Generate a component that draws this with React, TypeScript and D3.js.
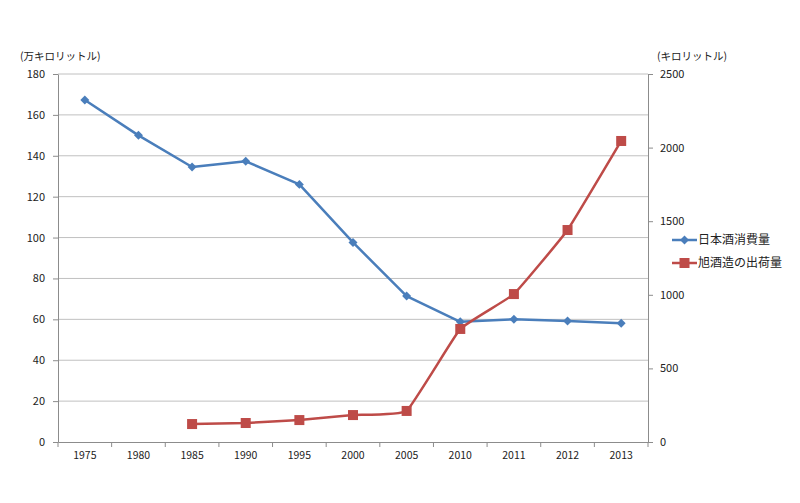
import { useEffect, useRef } from 'react';
import * as d3 from 'd3';

const years = ["1975", "1980", "1985", "1990", "1995", "2000", "2005", "2010", "2011", "2012", "2013"];
// 日本酒消費量 (万キロリットル)
const sakeConsumption = [167.3, 150.0, 134.5, 137.3, 126.0, 97.6, 71.4, 58.8, 60.0, 59.2, 58.1];
// 旭酒造の出荷量 (キロリットル), no data before 1985
const asahiShipment: (number | null)[] = [null, null, 122, 129, 149, 183, 211, 768, 1005, 1440, 2045];
const leftTicks = [0, 20, 40, 60, 80, 100, 120, 140, 160, 180];
const rightTicks = [0, 500, 1000, 1500, 2000, 2500];

const BLUE = "#4a7ebb";
const RED = "#be4b48";
const FONT = "'Noto Sans CJK JP', 'Noto Sans', sans-serif";

export default function App() {
    const svgRef = useRef<SVGSVGElement>(null);

    useEffect(() => {
        const width = 800;
        const height = 503;
        const svg = d3.select(svgRef.current);
        svg.selectAll("*").remove();
        svg.attr("width", width).attr("height", height)
            .style("font-family", FONT);

        svg.append("rect").attr("width", width).attr("height", height).attr("fill", "white");

        const margin = { top: 74, right: 152, bottom: 61, left: 58 };
        const chartWidth = width - margin.left - margin.right;
        const chartHeight = height - margin.top - margin.bottom;

        const g = svg.append("g")
            .attr("transform", `translate(${margin.left},${margin.top})`);

        const x = d3.scaleBand().domain(years).range([0, chartWidth]).padding(0);
        const yL = d3.scaleLinear().domain([0, 180]).range([chartHeight, 0]);
        const yR = d3.scaleLinear().domain([0, 2500]).range([chartHeight, 0]);
        const cx = (d: string) => (x(d) || 0) + x.bandwidth() / 2;

        // grid
        g.append("g")
            .selectAll("line")
            .data(leftTicks.filter(t => t > 0))
            .enter().append("line")
            .attr("x1", 0).attr("x2", chartWidth)
            .attr("y1", d => yL(d)).attr("y2", d => yL(d))
            .attr("stroke", "#c0c0c0").attr("stroke-width", 1);

        const axisColor = "#8c8c8c";
        const styleAxis = (sel: d3.Selection<SVGGElement, unknown, null, undefined>) => {
            sel.selectAll(".domain").attr("stroke", axisColor);
            sel.selectAll(".tick line").attr("stroke", axisColor);
            sel.selectAll(".tick text").attr("fill", "#222").style("font-size", "11px").style("font-family", FONT);
        };

        // left axis
        const gl = g.append("g")
            .call(d3.axisLeft(yL).tickValues(leftTicks).tickSize(5).tickSizeOuter(0).tickPadding(8))
        styleAxis(gl);

        // right axis
        const gr = g.append("g")
            .attr("transform", `translate(${chartWidth},0)`)
            .call(d3.axisRight(yR).tickValues(rightTicks).tickFormat(d3.format("d")).tickSize(5).tickSizeOuter(0).tickPadding(7));
        styleAxis(gr);

        // bottom axis with ticks at band edges
        const gx = g.append("g")
            .attr("transform", `translate(0,${chartHeight})`)
            .call(d3.axisBottom(x).tickSize(0).tickPadding(10));
        styleAxis(gx);
        gx.selectAll(".tick text").style("font-size", "10.5px");
        gx.selectAll(".edge")
            .data(years.map(d => x(d) || 0).concat([chartWidth]))
            .enter().append("line")
            .attr("x1", d => d).attr("x2", d => d)
            .attr("y1", 0).attr("y2", 5)
            .attr("stroke", axisColor);

        // blue line
        const lineL = d3.line<number>()
            .x((_, i) => cx(years[i]))
            .y(d => yL(d));
        g.append("path")
            .datum(sakeConsumption)
            .attr("fill", "none")
            .attr("stroke", BLUE)
            .attr("stroke-width", 2.5)
            .attr("stroke-linejoin", "round")
            .attr("d", lineL);

        // Excel-style diamond: rotated square
        const diamond = d3.symbol().type(d3.symbolSquare).size(40);
        g.selectAll(".dia")
            .data(sakeConsumption)
            .enter().append("path")
            .attr("transform", (d, i) => `translate(${cx(years[i])},${yL(d)}) rotate(45)`)
            .attr("d", diamond)
            .attr("fill", BLUE);

        // red line (lightly smoothed)
        const redPts = asahiShipment
            .map((v, i) => ({ year: years[i], v }))
            .filter(d => d.v !== null) as { year: string; v: number }[];
        const lineR = d3.line<{ year: string; v: number }>()
            .x(d => cx(d.year))
            .y(d => yR(d.v))
            .curve(d3.curveCardinal.tension(0.7));
        g.append("path")
            .datum(redPts)
            .attr("fill", "none")
            .attr("stroke", RED)
            .attr("stroke-width", 2.5)
            .attr("d", lineR);

        g.selectAll(".sq")
            .data(redPts)
            .enter().append("rect")
            .attr("x", d => cx(d.year) - 5)
            .attr("y", d => yR(d.v) - 5)
            .attr("width", 10).attr("height", 10)
            .attr("fill", RED);

        // axis titles
        svg.append("text")
            .attr("x", 20).attr("y", 60)
            .style("font-size", "10.5px").attr("fill", "#222")
            .text("(万キロリットル)");
        svg.append("text")
            .attr("x", 657).attr("y", 60)
            .style("font-size", "10.5px").attr("fill", "#222")
            .text("(キロリットル)");

        // legend
        const legend = svg.append("g").attr("transform", "translate(672,240)");
        const items = [
            { name: "日本酒消費量", color: BLUE, shape: "diamond" },
            { name: "旭酒造の出荷量", color: RED, shape: "square" },
        ];
        items.forEach((it, i) => {
            const row = legend.append("g").attr("transform", `translate(0,${i * 23})`);
            row.append("line").attr("x1", 0).attr("x2", 25).attr("y1", 0).attr("y2", 0)
                .attr("stroke", it.color).attr("stroke-width", 2.5);
            if (it.shape === "diamond") {
                row.append("path").attr("transform", "translate(12.5,0) rotate(45)")
                    .attr("d", diamond).attr("fill", it.color);
            } else {
                row.append("rect").attr("x", 7.5).attr("y", -5).attr("width", 10).attr("height", 10)
                    .attr("fill", it.color);
            }
            row.append("text").attr("x", 26).attr("y", 0).attr("dy", "0.35em")
                .style("font-size", "12px").attr("fill", "#222")
                .text(it.name);
        });
    }, []);

    return <svg ref={svgRef} style={{ position: "absolute", left: 0, top: 0 }}></svg>;
}
